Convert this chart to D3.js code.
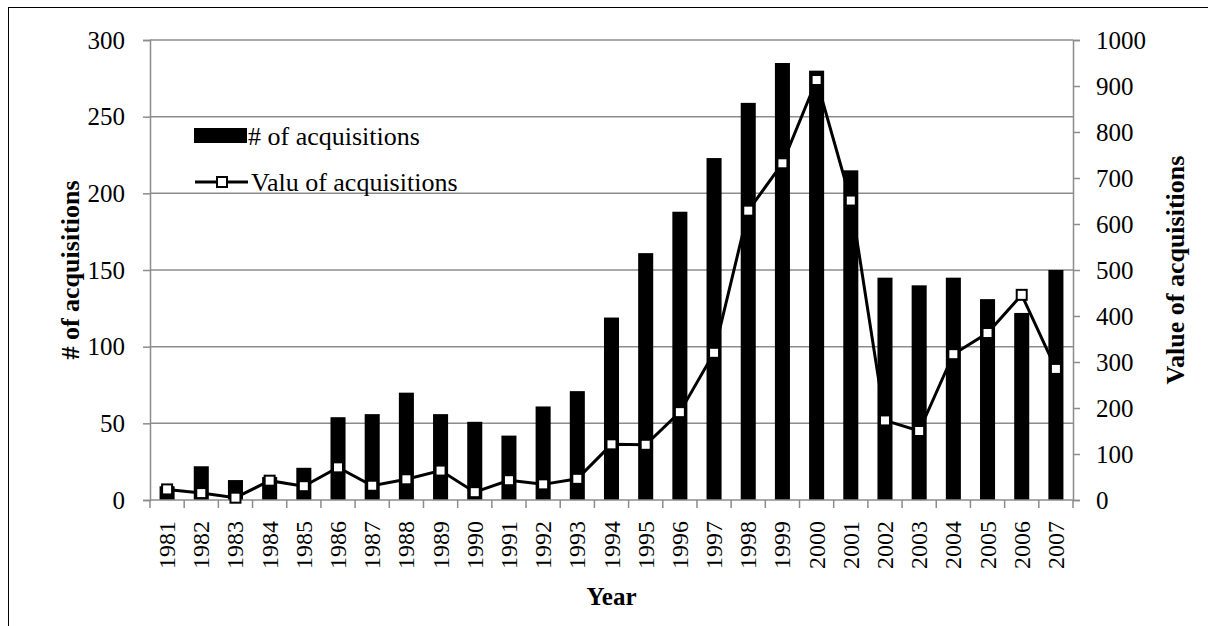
<!DOCTYPE html>
<html>
<head>
<meta charset="utf-8">
<script src="https://cdn.jsdelivr.net/npm/d3@7"></script>
<style>
  body { margin: 0; background: #fff; }
  svg, svg text { font-family: "Liberation Serif", "Times New Roman", serif; }
</style>
</head>
<body>
<div id="chart"></div>
<script>
var years = ['1981','1982','1983','1984','1985','1986','1987','1988','1989','1990','1991','1992','1993','1994',
             '1995','1996','1997','1998','1999','2000','2001','2002','2003','2004','2005','2006','2007'];
var numAcq = [9, 22, 13, 15, 21, 54, 56, 70, 56, 51, 42, 61, 71, 119, 161, 188, 223, 259, 285, 280, 215, 145, 140, 145, 131, 122, 150];
var valAcq = [23, 15, 5, 42, 30, 71, 31, 45, 64, 17, 43, 34, 46, 121, 120, 191, 320, 629, 732, 913, 651, 173, 150, 317, 363, 446, 285];
var leftTicks = [0, 50, 100, 150, 200, 250, 300];
var rightTicks = [0, 100, 200, 300, 400, 500, 600, 700, 800, 900, 1000];

var W = 1208, H = 626,
    FONT = '"Liberation Serif", "Times New Roman", serif',
    margin = {left: 150, right: 135, top: 40, bottom: 126};

var svg = d3.select('#chart').append('svg')
    .attr('width', W)
    .attr('height', H);

// outer frame (runs past the picture edge)
svg.append('rect')
    .attr('x', 8.5).attr('y', 7.5)
    .attr('width', W + 20).attr('height', H + 20)
    .attr('fill', 'none').attr('stroke', '#000').attr('stroke-width', 1);

var x = d3.scaleBand().domain(years)
    .range([margin.left, W - margin.right])
    .paddingInner(0.56).paddingOuter(0.28);
var yL = d3.scaleLinear().domain([0, 300]).range([H - margin.bottom, margin.top]);
var yR = d3.scaleLinear().domain([0, 1000]).range([H - margin.bottom, margin.top]);

// gridlines
svg.append('g').selectAll('line')
    .data(leftTicks.slice(1))
    .enter().append('line')
    .attr('x1', margin.left).attr('x2', W - margin.right)
    .attr('y1', function(d) { return yL(d); })
    .attr('y2', function(d) { return yL(d); })
    .attr('stroke', '#8c8c8c').attr('stroke-width', 1.5);

// bars
svg.append('g').selectAll('rect')
    .data(numAcq)
    .enter().append('rect')
    .attr('x', function(d, i) { return x(years[i]); })
    .attr('width', x.bandwidth())
    .attr('y', function(d) { return yL(d); })
    .attr('height', function(d) { return yL(0) - yL(d); })
    .attr('fill', '#000');

// axes
var leftAxis = svg.append('g')
    .attr('transform', 'translate(' + margin.left + ',0)')
    .call(d3.axisLeft(yL).tickValues(leftTicks).tickSize(7).tickPadding(18));
var rightAxis = svg.append('g')
    .attr('transform', 'translate(' + (W - margin.right) + ',0)')
    .call(d3.axisRight(yR).tickValues(rightTicks).tickFormat(d3.format('d')).tickSize(7).tickPadding(16));

var bandEdges = years.map(function(d) { return x(d) - x.step() * x.paddingInner() / 2; });
bandEdges.push(W - margin.right);
var bottom = svg.append('g').attr('transform', 'translate(0,' + yL(0) + ')');
bottom.append('line')
    .attr('x1', margin.left).attr('x2', W - margin.right)
    .attr('stroke', '#8c8c8c').attr('stroke-width', 1.5);
bottom.selectAll('line.tk')
    .data(bandEdges)
    .enter().append('line').attr('class', 'tk')
    .attr('x1', function(d) { return d; }).attr('x2', function(d) { return d; })
    .attr('y1', 0).attr('y2', 8)
    .attr('stroke', '#8c8c8c').attr('stroke-width', 1.5);
bottom.selectAll('text')
    .data(years)
    .enter().append('text')
    .attr('transform', function(d) { return 'translate(' + (x(d) + x.bandwidth() / 2 + 8) + ',21) rotate(-90)'; })
    .attr('text-anchor', 'end')
    .attr('font-size', 24)
    .text(function(d) { return d; });

[leftAxis, rightAxis].forEach(function(a) {
    a.attr('font-family', FONT).attr('font-size', 25);
    a.select('.domain').attr('stroke', '#8c8c8c').attr('stroke-width', 1.5);
    a.selectAll('.tick line').attr('stroke', '#8c8c8c').attr('stroke-width', 1.5);
    a.selectAll('.tick text').attr('fill', '#000');
});

// value line
var line = d3.line()
    .x(function(d, i) { return x(years[i]) + x.bandwidth() / 2; })
    .y(function(d) { return yR(d); });
svg.append('path')
    .attr('d', line(valAcq))
    .attr('fill', 'none')
    .attr('stroke', '#000')
    .attr('stroke-width', 3);
svg.append('g').selectAll('rect')
    .data(valAcq)
    .enter().append('rect')
    .attr('x', function(d, i) { return x(years[i]) + x.bandwidth() / 2 - 5; })
    .attr('y', function(d) { return yR(d) - 5; })
    .attr('width', 10).attr('height', 10)
    .attr('fill', '#fff').attr('stroke', '#000').attr('stroke-width', 2);

// axis titles
svg.append('text')
    .attr('transform', 'translate(79,' + yL(150) + ') rotate(-90)')
    .attr('text-anchor', 'middle')
    .attr('font-size', 26).attr('font-weight', 'bold')
    .text('# of acquisitions');
svg.append('text')
    .attr('transform', 'translate(1184,' + yL(150) + ') rotate(-90)')
    .attr('text-anchor', 'middle')
    .attr('font-size', 26).attr('font-weight', 'bold')
    .text('Value of acquisitions');
svg.append('text')
    .attr('x', (margin.left + W - margin.right) / 2)
    .attr('y', 605)
    .attr('text-anchor', 'middle')
    .attr('font-size', 25).attr('font-weight', 'bold')
    .text('Year');

// legend
var lg = svg.append('g');
lg.append('rect')
    .attr('x', 194).attr('y', 128).attr('width', 53).attr('height', 15)
    .attr('fill', '#000');
lg.append('text')
    .attr('x', 248).attr('y', 145)
    .attr('font-size', 26)
    .text('# of acquisitions');
lg.append('line')
    .attr('x1', 195).attr('x2', 248).attr('y1', 182).attr('y2', 182)
    .attr('stroke', '#000').attr('stroke-width', 3);
lg.append('rect')
    .attr('x', 217).attr('y', 177).attr('width', 10).attr('height', 10)
    .attr('fill', '#fff').attr('stroke', '#000').attr('stroke-width', 2);
lg.append('text')
    .attr('x', 251).attr('y', 191)
    .attr('font-size', 26)
    .text('Valu of acquisitions');
</script>
</body>
</html>
